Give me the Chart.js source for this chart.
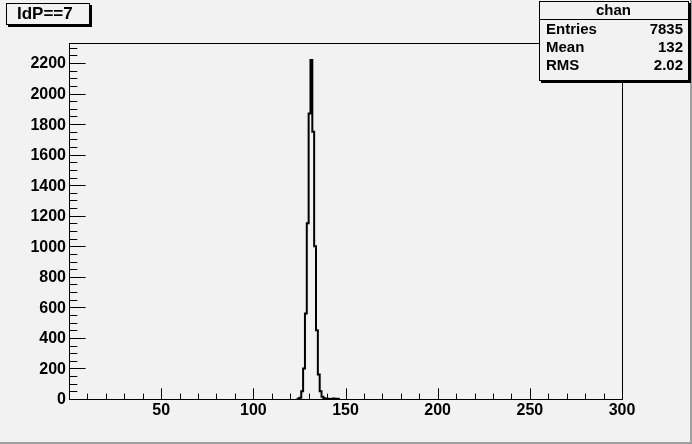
<!DOCTYPE html>
<html><head><meta charset="utf-8">
<script src="https://cdn.jsdelivr.net/npm/chart.js@4.4.1/dist/chart.umd.min.js"></script>
<style>html,body{margin:0;padding:0;background:#f2f2f2;}canvas{display:block;}</style>
</head><body>
<canvas id="c" width="692" height="444"></canvas>
<script>
// ---- data ----
const histTitle = 'IdP==7';
const statsName = 'chan';
const statsLabels = ['Entries', 'Mean', 'RMS'];
const statsValues = ['7835', '132', '2.02'];
// bin lower edges (bin width 1) and their contents
const channels = [124, 125, 126, 127, 128, 129, 130, 131, 132, 133, 134, 135, 136, 137, 138, 139, 140, 141, 142, 143, 144, 145, 146];
const counts   = [2,   8,   50,  200, 560, 1150, 1870, 2220, 1750, 1000, 450, 160, 50, 14, 5, 0, 2, 0, 0, 3, 0, 2, 0];
const xTickLabels = [50, 100, 150, 200, 250, 300];
const yTickLabels = [0, 200, 400, 600, 800, 1000, 1200, 1400, 1600, 1800, 2000, 2200];
const xRange = [0, 300];
const yRange = [0, 2331];

// ---- build step outline ----
const points = [{x: channels[0], y: 0}];
channels.forEach((c, i) => points.push({x: c, y: counts[i]}));
points.push({x: channels[channels.length - 1] + 1, y: 0});

const FONT = "'Liberation Sans', Arial, Helvetica, sans-serif";
const BG = '#f2f2f2';

const rootPlugin = {
  id: 'rootStyle',
  beforeDraw(chart) {
    const ctx = chart.ctx;
    ctx.save();
    ctx.fillStyle = BG;
    ctx.fillRect(0, 0, chart.width, chart.height);
    ctx.fillStyle = '#a0a0a0';
    ctx.fillRect(0, chart.height - 2, chart.width, 2);
    ctx.fillRect(chart.width - 2, 0, 2, chart.height);
    ctx.restore();
  },
  afterDatasetsDraw(chart) {
    const ctx = chart.ctx;
    const a = chart.chartArea;
    const xs = chart.scales.x, ys = chart.scales.y;
    ctx.save();
    ctx.strokeStyle = '#000';
    ctx.lineWidth = 1;
    ctx.strokeRect(a.left + 0.5, a.top + 0.5, a.right - a.left, a.bottom - a.top);
    const yMajLen = (a.right - a.left) * 0.03, xMajLen = (a.bottom - a.top) * 0.03;
    ctx.beginPath();
    for (let v = 0; v <= yRange[1]; v += 50) {
      const py = Math.round(ys.getPixelForValue(v)) + 0.5;
      const len = (v % 200 === 0) ? yMajLen : yMajLen / 2;
      ctx.moveTo(a.left, py); ctx.lineTo(a.left + len, py);
    }
    for (let v = 0; v <= xRange[1]; v += 10) {
      const px = Math.round(xs.getPixelForValue(v)) + 0.5;
      const len = (v % 50 === 0) ? xMajLen : xMajLen / 2;
      ctx.moveTo(px, a.bottom); ctx.lineTo(px, a.bottom - len);
    }
    ctx.stroke();
    ctx.fillStyle = '#000';
    ctx.font = 'bold 16px ' + FONT;
    ctx.textAlign = 'right'; ctx.textBaseline = 'middle';
    yTickLabels.forEach(v => ctx.fillText(String(v), a.left - 3, ys.getPixelForValue(v) + 1));
    ctx.textAlign = 'center'; ctx.textBaseline = 'top';
    xTickLabels.forEach(v => ctx.fillText(String(v), xs.getPixelForValue(v), a.bottom + 4));

    // title box
    const tb = {x: 6, y: 3, w: 83, h: 21};
    ctx.fillStyle = '#000';
    ctx.fillRect(tb.x + 2, tb.y + 2, tb.w + 1, tb.h + 1);
    ctx.fillStyle = BG;
    ctx.fillRect(tb.x, tb.y, tb.w, tb.h);
    ctx.strokeRect(tb.x + 0.5, tb.y + 0.5, tb.w, tb.h);
    ctx.fillStyle = '#000';
    ctx.font = 'bold 17px ' + FONT;
    ctx.textAlign = 'left'; ctx.textBaseline = 'middle';
    ctx.fillText(histTitle, 17, tb.y + tb.h / 2 + 1);

    // stats box
    const sb = {x: 539, y: 1, w: 149, h: 79};
    ctx.fillStyle = '#000';
    ctx.fillRect(sb.x + 2, sb.y + 2, sb.w + 1, sb.h + 1);
    ctx.fillStyle = BG;
    ctx.fillRect(sb.x, sb.y, sb.w, sb.h);
    ctx.strokeRect(sb.x + 0.5, sb.y + 0.5, sb.w, sb.h);
    ctx.beginPath();
    ctx.moveTo(sb.x, sb.y + 18.5); ctx.lineTo(sb.x + sb.w, sb.y + 18.5);
    ctx.stroke();
    ctx.fillStyle = '#000';
    ctx.font = 'bold 15px ' + FONT;
    ctx.textAlign = 'center'; ctx.textBaseline = 'middle';
    ctx.fillText(statsName, sb.x + sb.w / 2, sb.y + 10);
    statsLabels.forEach((lab, i) => {
      const yy = sb.y + 29 + i * 18;
      ctx.textAlign = 'left';
      ctx.fillText(lab, sb.x + 7, yy);
      ctx.textAlign = 'right';
      ctx.fillText(statsValues[i], sb.x + sb.w - 5, yy);
    });
    ctx.restore();
  }
};

new Chart(document.getElementById('c').getContext('2d'), {
  type: 'line',
  data: {
    datasets: [{
      data: points,
      borderColor: '#000',
      borderWidth: 2,
      pointRadius: 0,
      stepped: 'before',
      fill: false,
      tension: 0,
      clip: 0
    }]
  },
  options: {
    responsive: false,
    animation: false,
    devicePixelRatio: 1,
    layout: {padding: {left: 69, right: 70, top: 43, bottom: 45}},
    scales: {
      x: {type: 'linear', min: xRange[0], max: xRange[1], display: false},
      y: {type: 'linear', min: yRange[0], max: yRange[1], display: false}
    },
    plugins: {legend: {display: false}, tooltip: {enabled: false}, title: {display: false}}
  },
  plugins: [rootPlugin]
});
</script>
</body></html>
